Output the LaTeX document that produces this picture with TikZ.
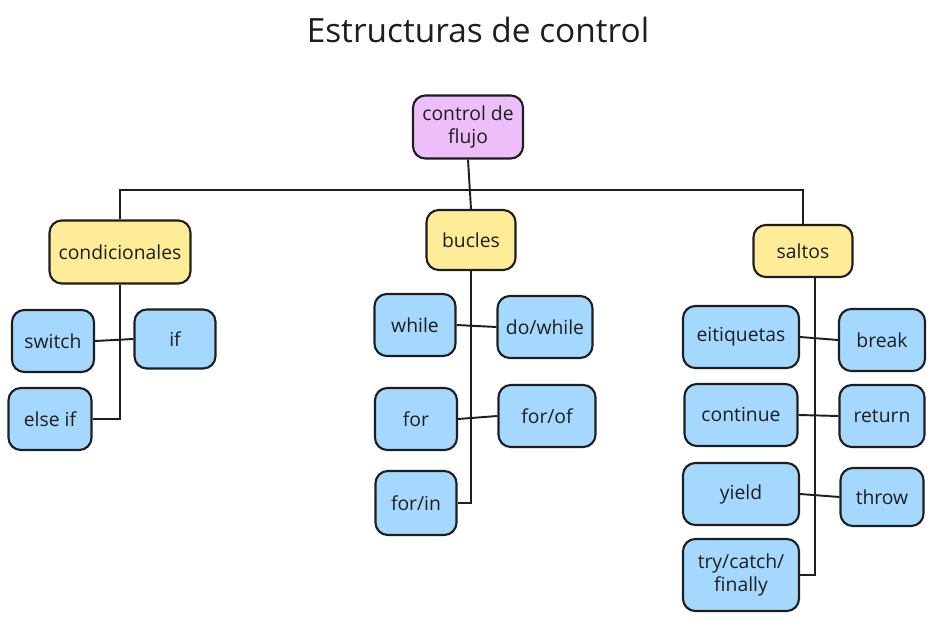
\documentclass[tikz,border=0pt]{standalone}
\usepackage{fontspec}
\setmainfont{Open Sans}
\definecolor{ink}{HTML}{1E1E1E}
\definecolor{lila}{HTML}{EEBEFA}
\definecolor{gelb}{HTML}{FFEC99}
\definecolor{blau}{HTML}{A5D8FF}
\begin{document}
\begin{tikzpicture}[
  box/.style={draw=ink, line width=1.2pt, rounded corners=7pt, align=center,
    inner sep=2pt, font=\fontsize{11}{13}\selectfont, text=ink},
  root/.style={box, fill=lila, minimum width=2.2cm, minimum height=1.26cm},
  group/.style={box, fill=gelb, minimum height=1.2cm},
  leaf/.style={box, fill=blau, minimum height=1.24cm},
  link/.style={draw=ink, line width=1.1pt}]
\useasboundingbox (0,0) rectangle (18.7,-12.42);
\node[font=\fontsize{19}{22}\selectfont, text=ink] (title) at (9.56,-0.6) {Estructuras de control};
\node[root] (flujo) at (9.36,-2.54) {control de\\flujo};
\node[group, minimum width=2.82cm, minimum height=1.26cm] (cond) at (2.4,-5.04) {condicionales};
\node[group, minimum width=1.78cm] (bucles) at (9.42,-4.8) {bucles};
\node[group, minimum width=1.98cm, minimum height=1.04cm] (saltos) at (16.06,-5.02) {saltos};
\node[leaf, minimum width=1.64cm] (switch) at (1.06,-6.82) {switch};
\node[leaf, minimum width=1.62cm, minimum height=1.18cm] (if) at (3.5,-6.78) {if};
\node[leaf, minimum width=1.66cm] (elseif) at (1.0,-8.38) {else if};
\node[leaf, minimum width=1.62cm] (while) at (8.3,-6.5) {while};
\node[leaf, minimum width=1.9cm] (dowhile) at (10.9,-6.54) {do/while};
\node[leaf, minimum width=1.64cm] (for) at (8.32,-8.38) {for};
\node[leaf, minimum width=1.94cm] (forof) at (10.94,-8.32) {for/of};
\node[leaf, minimum width=1.62cm, minimum height=1.28cm] (forin) at (8.32,-10.06) {for/in};
\node[leaf, minimum width=2.32cm] (etiq) at (14.82,-6.74) {eitiquetas};
\node[leaf, minimum width=1.72cm] (break) at (17.64,-6.8) {break};
\node[leaf, minimum width=2.26cm] (continue) at (14.82,-8.3) {continue};
\node[leaf, minimum width=1.7cm] (return) at (17.64,-8.32) {return};
\node[leaf, minimum width=2.32cm] (yield) at (14.82,-9.88) {yield};
\node[leaf, minimum width=1.66cm, minimum height=1.16cm] (throw) at (17.64,-9.94) {throw};
\node[leaf, minimum width=2.32cm, minimum height=1.44cm] (try) at (14.82,-11.5) {try/catch/\\finally};
\coordinate (bus) at (0,-3.8);
\coordinate (sline) at (16.3,0);
\draw[link] (flujo.south) -- (bucles.north);
\draw[link] (cond.north) -- (cond.north |- bus) -- (saltos.north |- bus) -- (saltos.north);
\draw[link] (cond.south) -- (cond.south |- elseif.east) -- (elseif.east);
\draw[link] (switch.east) -- (if.west);
\draw[link] (bucles.south) -- (bucles.south |- forin.east) -- (forin.east);
\draw[link] (while.east) -- (dowhile.west);
\draw[link] (for.east) -- (forof.west);
\draw[link] (saltos.south -| sline) -- (sline |- try.east) -- (try.east);
\draw[link] (etiq.east) -- (break.west);
\draw[link] (continue.east) -- (return.west);
\draw[link] (yield.east) -- (throw.west);
\end{tikzpicture}
\end{document}
